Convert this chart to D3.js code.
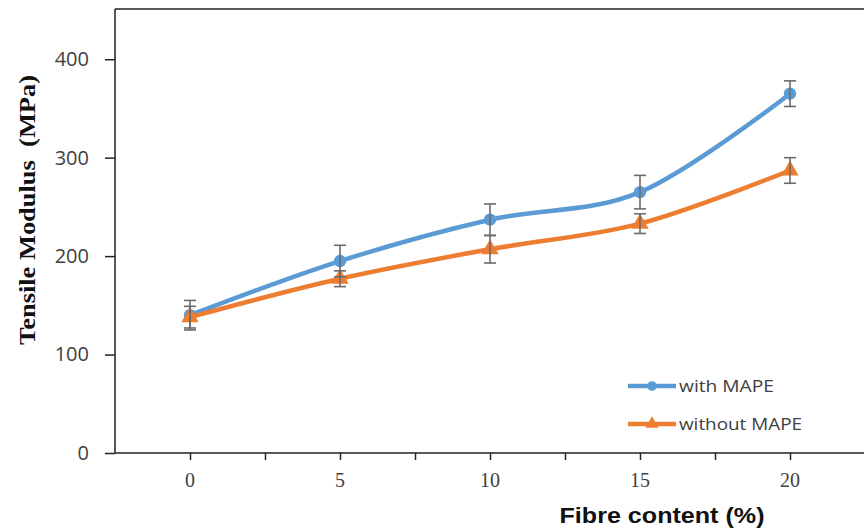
<!DOCTYPE html>
<html>
<head>
<meta charset="utf-8">
<script src="https://cdn.jsdelivr.net/npm/d3@7"></script>
<style>
  body { margin: 0; background: #fff; }
  svg { display: block; }
</style>
</head>
<body>
<div id="chart"></div>
<script>
// Data
const fibre = [0, 5, 10, 15, 20];
const withMape = [140, 195, 237, 265, 365];
const withMapeErr = [15, 16, 16, 17, 13];
const withoutMape = [138, 177, 207, 233, 287];
const withoutMapeErr = [11, 8, 14, 10, 13];
const yTicks = [0, 100, 200, 300, 400];
const xLabels = [0, 5, 10, 15, 20];
const xMinorTicks = [0, 2.5, 5, 7.5, 10, 12.5, 15, 17.5, 20, 22.5];

const W = 864, H = 531;
const svg = d3.select("#chart").append("svg")
    .attr("width", W).attr("height", H);

const x = d3.scaleLinear().domain([-2.5, 22.5]).range([115, 865]);
const y = d3.scaleLinear().domain([0, 450]).range([453, 10]);

const labelColor = "#404040";

// frame (top border + y axis line)
svg.append("line")
    .attr("x1", x(-2.5)).attr("x2", W + 5)
    .attr("y1", 9).attr("y2", 9)
    .attr("stroke", "#222").attr("stroke-width", 1.5);

// Y axis
const yAxis = svg.append("g")
    .attr("transform", `translate(${x(-2.5)},0)`)
    .call(d3.axisLeft(y).tickValues(yTicks).tickSize(10).tickPadding(16).tickSizeOuter(0));
yAxis.select(".domain").attr("stroke", "#222").attr("stroke-width", 1.5)
    .attr("d", `M0,9V${y(0)}`);
yAxis.selectAll(".tick line").attr("stroke", "#222").attr("stroke-width", 1.5);
yAxis.selectAll(".tick text")
    .attr("font-family", "'Open Sans', 'Liberation Sans', sans-serif")
    .attr("font-size", 20)
    .attr("fill", labelColor);

// X axis
const xAxis = svg.append("g")
    .attr("transform", `translate(0,${y(0)})`)
    .call(d3.axisBottom(x).tickValues(xMinorTicks).tickSize(7).tickFormat("").tickSizeOuter(0));
xAxis.select(".domain").attr("stroke", "#222").attr("stroke-width", 1.5)
    .attr("d", `M${x(-2.5)},0H${W + 5}`);
xAxis.selectAll(".tick line").attr("stroke", "#222").attr("stroke-width", 1.5);

svg.append("g").selectAll("text")
    .data(xLabels)
    .join("text")
    .attr("x", d => x(d))
    .attr("y", 487)
    .attr("text-anchor", "middle")
    .attr("font-family", "'Liberation Serif', 'Times New Roman', serif")
    .attr("font-size", 20)
    .attr("fill", labelColor)
    .text(d => d);

// Axis titles
svg.append("text")
    .attr("transform", `translate(35,210) rotate(-90)`)
    .attr("text-anchor", "middle")
    .attr("font-family", "'Liberation Serif', 'Times New Roman', serif")
    .attr("font-weight", "bold")
    .attr("font-size", 24)
    .attr("fill", "#111")
    .attr("xml:space", "preserve")
    .attr("textLength", 270)
    .attr("lengthAdjust", "spacingAndGlyphs")
    .text("Tensile Modulus  (MPa)");

svg.append("text")
    .attr("x", 662)
    .attr("y", 523)
    .attr("text-anchor", "middle")
    .attr("font-family", "'Liberation Sans', Arial, sans-serif")
    .attr("font-weight", "bold")
    .attr("font-size", 22)
    .attr("fill", "#111")
    .attr("textLength", 205)
    .attr("lengthAdjust", "spacingAndGlyphs")
    .text("Fibre content (%)");

// Series
const series = [
    { name: "with MAPE", values: withMape, err: withMapeErr, color: "#5B9BD5", symbol: d3.symbolCircle, size: 120, textLen: 95 },
    { name: "without MAPE", values: withoutMape, err: withoutMapeErr, color: "#ED7D31", symbol: d3.symbolTriangle, size: 130, textLen: 123 }
];

const line = d3.line()
    .x((d, i) => x(fibre[i]))
    .y(d => y(d))
    .curve(d3.curveCatmullRom.alpha(0));

series.forEach(s => {
    svg.append("path")
        .datum(s.values)
        .attr("fill", "none")
        .attr("stroke", s.color)
        .attr("stroke-width", 4.5)
        .attr("stroke-linecap", "round")
        .attr("d", line);

    svg.append("g").selectAll("path")
        .data(s.values)
        .join("path")
        .attr("transform", (d, i) => `translate(${x(fibre[i])},${y(d)})`)
        .attr("d", d3.symbol().type(s.symbol).size(s.size))
        .attr("fill", s.color);
});

// Error bars on top
series.forEach(s => {
    const g = svg.append("g")
        .attr("stroke", "#6b6b6b")
        .attr("stroke-width", 1.6)
        .attr("fill", "none");
    s.values.forEach((v, i) => {
        const cx = x(fibre[i]);
        const top = y(v + s.err[i]);
        const bot = y(v - s.err[i]);
        g.append("line").attr("x1", cx).attr("x2", cx).attr("y1", top).attr("y2", bot);
        g.append("line").attr("x1", cx - 6).attr("x2", cx + 6).attr("y1", top).attr("y2", top);
        g.append("line").attr("x1", cx - 6).attr("x2", cx + 6).attr("y1", bot).attr("y2", bot);
    });
});

// Legend
const legend = svg.append("g");
series.forEach((s, i) => {
    const ly = 386 + i * 38;
    legend.append("line")
        .attr("x1", 628).attr("x2", 676)
        .attr("y1", ly).attr("y2", ly)
        .attr("stroke", s.color)
        .attr("stroke-width", 4.5);
    legend.append("path")
        .attr("transform", `translate(652,${ly})`)
        .attr("d", d3.symbol().type(s.symbol).size(s.size * 0.6))
        .attr("fill", s.color);
    legend.append("text")
        .attr("x", 679)
        .attr("y", ly + 6)
        .attr("font-family", "'Open Sans', 'Liberation Sans', sans-serif")
        .attr("font-size", 17)
        .attr("fill", labelColor)
        .attr("textLength", s.textLen)
        .attr("lengthAdjust", "spacingAndGlyphs")
        .text(s.name);
});
</script>
</body>
</html>
